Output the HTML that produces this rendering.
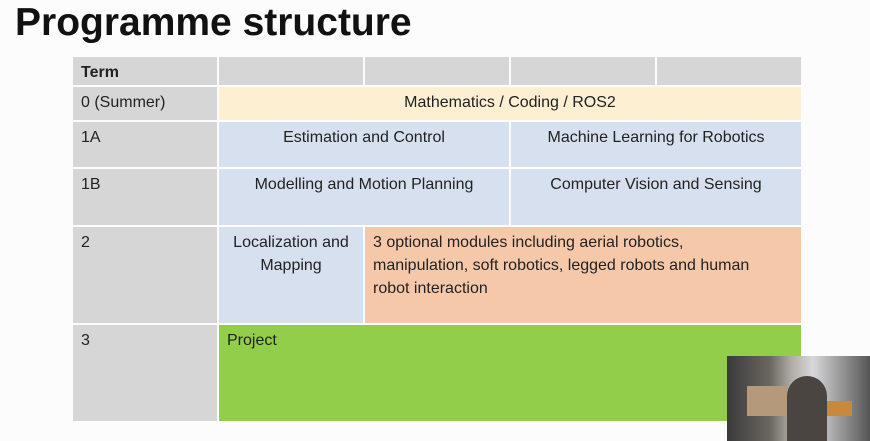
<!DOCTYPE html>
<html><head><style>
body{margin:0;width:870px;height:441px;background:#fcfcfc;position:relative;overflow:hidden;font-family:"Liberation Sans",sans-serif;}
.c{position:absolute;box-sizing:border-box;font-size:16px;color:#222;padding:6px 8px;line-height:23px}
.g{background:#d6d6d6}.y{background:#fdf0d2}.b{background:#d7e0ef}.o{background:#f6c8aa}.gr{background:#92ce4a}
.ct{text-align:center}
h1{position:absolute;left:15px;top:1px;margin:0;font-size:39px;font-weight:bold;color:#111}
</style></head><body>
<h1>Programme structure</h1>
<div class="c g" style="left:73px;top:57px;width:144px;height:28px;font-weight:bold;padding-top:4px">Term</div>
<div class="c g" style="left:219px;top:57px;width:144px;height:28px"></div>
<div class="c g" style="left:365px;top:57px;width:144px;height:28px"></div>
<div class="c g" style="left:511px;top:57px;width:144px;height:28px"></div>
<div class="c g" style="left:657px;top:57px;width:144px;height:28px"></div>

<div class="c g" style="left:73px;top:87px;width:144px;height:33px;padding-top:4px">0 (Summer)</div>
<div class="c y ct" style="left:219px;top:87px;width:582px;height:33px;padding-top:4px">Mathematics / Coding / ROS2</div>

<div class="c g" style="left:73px;top:122px;width:144px;height:45px;padding-top:4px">1A</div>
<div class="c b ct" style="left:219px;top:122px;width:290px;height:45px;padding-top:4px">Estimation and Control</div>
<div class="c b ct" style="left:511px;top:122px;width:290px;height:45px;padding-top:4px">Machine Learning for Robotics</div>

<div class="c g" style="left:73px;top:169px;width:144px;height:56px;padding-top:4px">1B</div>
<div class="c b ct" style="left:219px;top:169px;width:290px;height:56px;padding-top:4px">Modelling and Motion Planning</div>
<div class="c b ct" style="left:511px;top:169px;width:290px;height:56px;padding-top:4px">Computer Vision and Sensing</div>

<div class="c g" style="left:73px;top:227px;width:144px;height:96px;padding-top:4px">2</div>
<div class="c b ct" style="left:219px;top:227px;width:144px;height:96px;padding:4px 2px">Localization and Mapping</div>
<div class="c o" style="left:365px;top:227px;width:436px;height:96px;padding:4px 8px;white-space:nowrap">3 optional modules including aerial robotics,<br>manipulation, soft robotics, legged robots and human<br>robot interaction</div>

<div class="c g" style="left:73px;top:325px;width:144px;height:96px;padding-top:4px">3</div>
<div class="c gr" style="left:219px;top:325px;width:582px;height:96px;padding-top:4px">Project</div>

<div style="position:absolute;left:727px;top:356px;width:143px;height:85px;background:linear-gradient(90deg,#3a3a3a 0,#6b6660 30%,#b0aca6 45%,#d8d8da 60%,#555 100%)">
<div style="position:absolute;left:20px;top:30px;width:40px;height:30px;background:#b49a7a"></div>
<div style="position:absolute;left:60px;top:20px;width:40px;height:65px;border-radius:20px 20px 0 0;background:#4a4540"></div>
<div style="position:absolute;left:100px;top:45px;width:25px;height:15px;background:#c8893f"></div>
</div>
</body></html>
